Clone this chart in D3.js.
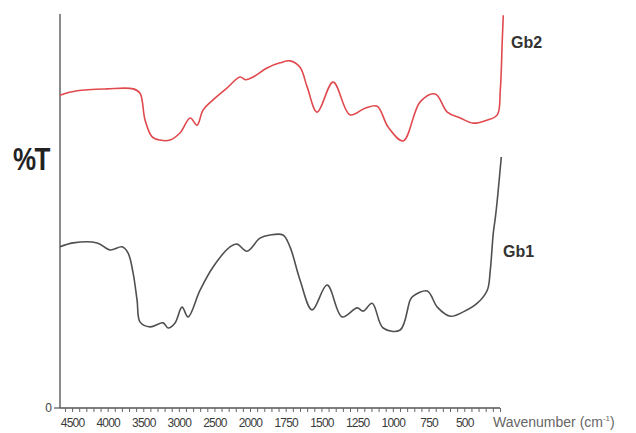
<!DOCTYPE html>
<html>
<head>
<meta charset="utf-8">
<script src="https://cdn.jsdelivr.net/npm/d3@7"></script>
<style>
  html, body { margin: 0; padding: 0; background: #fff; }
  svg { display: block; font-family: "Liberation Sans", Arial, sans-serif; }
</style>
</head>
<body>
<svg id="chart" width="636" height="433"></svg>
<script>
// FTIR spectra, wavenumber (cm-1) vs. transmittance (arbitrary %T scale)
const gb2Wavenumber = [4670, 4430, 4010, 3640, 3545, 3475, 3375, 3265, 3125, 2985, 2840, 2745, 2660, 2520, 2325, 2140,
  2060, 1979, 1881, 1790, 1720, 1650, 1600, 1530, 1418, 1300, 1194, 1110, 1033, 928, 809, 703, 619, 528, 437, 339, 269, 248, 234, 227];
const gb2Transmittance = [79.4, 80.5, 81.0, 81.0, 79.9, 73.1, 68.8, 68.0, 68.0, 69.8, 73.6, 71.8, 75.6, 78.2, 81.2, 84.0,
  83.3, 84.0, 86.3, 87.6, 88.1, 86.5, 81.5, 75.1, 82.7, 74.4, 76.1, 76.6, 71.3, 67.8, 77.7, 79.7, 75.1, 73.6, 72.3, 73.1, 74.4, 80.7, 93.4, 99.7];

const gb1Wavenumber = [4670, 4485, 4148, 3966, 3797, 3713, 3643, 3587, 3544, 3404, 3221, 3151, 3053, 2955, 2870, 2702,
  2519, 2281, 2183, 2042, 1930, 1860, 1769, 1720, 1650, 1565, 1460, 1355, 1250, 1208, 1145, 1068, 949, 879, 858, 759,
  689, 598, 507, 409, 339, 318, 297, 283, 269, 241];
const gb1Transmittance = [40.9, 41.9, 41.9, 40.1, 40.9, 39.3, 34.3, 27.4, 21.8, 20.6, 21.6, 20.3, 21.6, 25.6, 23.1, 29.9,
  35.8, 40.9, 41.6, 39.8, 43.1, 43.9, 43.9, 40.9, 32.5, 24.9, 31.2, 23.1, 25.4, 24.6, 26.6, 20.3, 19.8, 27.4, 28.4, 29.7,
  25.6, 23.3, 24.4, 26.6, 29.9, 35.0, 44.4, 48.2, 52.8, 63.7];

const tickLabels = [4500, 4000, 3500, 3000, 2500, 2000, 1750, 1500, 1250, 1000, 750, 500];
const minorTicksHigh = d3.range(4600, 2000, -100);   // 100 cm-1 steps above 2000
const minorTicksLow = d3.range(2000, 249, -50);      // 50 cm-1 steps below 2000

const svg = d3.select("#chart");

// The wavenumber axis changes scale at 2000 cm-1, as FTIR instruments do
const x = d3.scaleLinear().domain([4670, 2000, 250]).range([60, 250, 500]);
const y = d3.scaleLinear().domain([0, 100]).range([408, 14]);

// y axis: plain line with a single "0" tick
svg.append("line")
  .attr("x1", 60).attr("x2", 60)
  .attr("y1", y(100)).attr("y2", y(0))
  .attr("stroke", "#8a8a8a").attr("stroke-width", 2);
svg.append("line")
  .attr("x1", 54).attr("x2", 60)
  .attr("y1", y(0)).attr("y2", y(0))
  .attr("stroke", "#555").attr("stroke-width", 1.2);
svg.append("text")
  .attr("x", 52).attr("y", y(0) + 4)
  .attr("text-anchor", "end")
  .attr("font-size", 12).attr("fill", "#444")
  .text("0");

svg.append("text")
  .attr("transform", "translate(13,170) scale(1,1.22)")
  .attr("font-size", 26).attr("font-weight", "bold")
  .attr("letter-spacing", -1.5)
  .attr("fill", "#222")
  .text("%T");

// x axis: minor ticks, then labelled positions
const minorAxis = d3.axisBottom(x)
  .tickValues(minorTicksHigh.concat(minorTicksLow))
  .tickSize(4)
  .tickFormat("");
const gx = svg.append("g")
  .attr("transform", `translate(0,${y(0)})`)
  .call(minorAxis);
gx.select(".domain").attr("d", `M60,0H500`).attr("stroke", "#555").attr("stroke-width", 1.5);
gx.selectAll(".tick line").attr("stroke", "#666").attr("stroke-width", 1);

const labelAxis = d3.axisBottom(x)
  .tickValues(tickLabels)
  .tickSize(0)
  .tickPadding(10)
  .tickFormat(d3.format("d"));
const gl = svg.append("g")
  .attr("transform", `translate(0,${y(0)})`)
  .call(labelAxis);
gl.select(".domain").remove();
gl.selectAll(".tick text")
  .attr("font-size", 12)
  .attr("letter-spacing", -0.8)
  .attr("fill", "#3a3a3a")
  .attr("font-family", "'Liberation Sans', Arial, sans-serif");

const axisTitle = svg.append("text")
  .attr("x", 493).attr("y", 427)
  .attr("font-size", 14).attr("fill", "#666");
axisTitle.append("tspan").text("Wavenumber (cm");
axisTitle.append("tspan").attr("font-size", 8).attr("dy", -6).text("-1");
axisTitle.append("tspan").attr("dy", 6).text(")");

// spectra
const line = d3.line()
  .x(d => x(d[0]))
  .y(d => y(d[1]))
  .curve(d3.curveCatmullRom.alpha(0.5));

const gb2 = gb2Wavenumber.map((w, i) => [w, gb2Transmittance[i]]);
const gb1 = gb1Wavenumber.map((w, i) => [w, gb1Transmittance[i]]);

svg.append("path")
  .datum(gb2)
  .attr("d", line)
  .attr("fill", "none")
  .attr("stroke", "#e04a4e")
  .attr("stroke-width", 1.6);

svg.append("path")
  .datum(gb1)
  .attr("d", line)
  .attr("fill", "none")
  .attr("stroke", "#505050")
  .attr("stroke-width", 1.6);

svg.append("text")
  .attr("x", 511).attr("y", 48)
  .attr("font-size", 16).attr("font-weight", "bold")
  .attr("fill", "#333")
  .text("Gb2");
svg.append("text")
  .attr("x", 503).attr("y", 257)
  .attr("font-size", 16).attr("font-weight", "bold")
  .attr("fill", "#333")
  .text("Gb1");
</script>
</body>
</html>
